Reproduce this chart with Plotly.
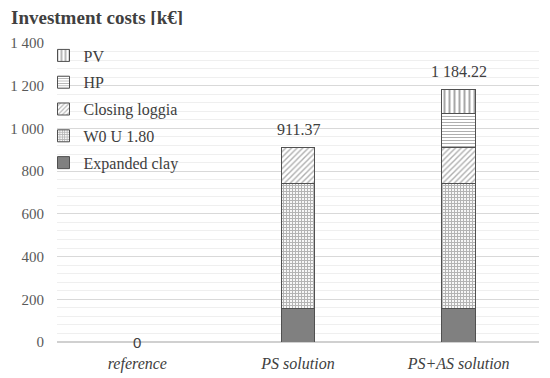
import plotly.graph_objects as go

categories = ["reference", "PS solution", "PS+AS solution"]
expanded_clay = [0, 157.47, 157.47]
w0_u180 = [0, 585.90, 585.90]
closing_loggia = [0, 168.00, 168.00]
hp = [0, 0, 160.35]
pv = [0, 0, 112.50]
totals = [0, 911.37, 1184.22]
total_labels = ["0", "911.37", "1 184.22"]
tick_vals = [0, 200, 400, 600, 800, 1000, 1200, 1400]
tick_text = ["0", "200", "400", "600", "800", "1 000", "1 200", "1 400"]

serif = "Liberation Serif"
line = dict(color="#505050", width=1)

series = [
    ("Expanded clay", expanded_clay, dict(shape="", fgcolor="#808080"), "#808080", 5),
    ("W0 U 1.80", w0_u180, dict(shape="+", fgcolor="#6a6a6a", bgcolor="white", size=3, solidity=0.65), "white", 4),
    ("Closing loggia", closing_loggia, dict(shape="/", fgcolor="#606060", bgcolor="white", size=4, solidity=0.35), "white", 3),
    ("HP", hp, dict(shape="-", fgcolor="#606060", bgcolor="white", size=3, solidity=0.35), "white", 2),
    ("PV", pv, dict(shape="|", fgcolor="#505050", bgcolor="white", size=5, solidity=0.4), "white", 1),
]

fig = go.Figure()
for name, vals, pat, col, rank in series:
    fig.add_trace(go.Bar(
        x=categories, y=vals, name=name, width=0.21, legendgroup=name, legendrank=rank,
        marker=dict(color=col, line=line, pattern=pat),
    ))

for c, t, lab in zip(categories, totals, total_labels):
    if t == 0:
        fig.add_annotation(x=c, y=t, text=lab, showarrow=False, yanchor="middle",
                           font=dict(family="Liberation Sans", size=15, color="#404040"))
    else:
        fig.add_annotation(x=c, y=t, text=lab, showarrow=False, yanchor="bottom", yshift=7,
                           font=dict(family=serif, size=16, color="#404040"))

fig.add_annotation(xref="paper", yref="paper", x=-0.0975, y=1.088, xanchor="left", yanchor="middle",
                   text="<b>Investment costs [k€]</b>", showarrow=False, height=16, borderpad=0,
                   font=dict(family=serif, size=19, color="#404040"))

# page body adds an 8px margin, so the figure is 8px smaller than the window
fig.update_layout(
    width=542, height=370,
    barmode="stack",
    paper_bgcolor="white", plot_bgcolor="white",
    margin=dict(l=49, r=11, t=35, b=36),
    font=dict(family=serif, size=16, color="#404040"),
    legend=dict(x=-0.028, y=1.015, xanchor="left", yanchor="top", traceorder="grouped",
                bgcolor="rgba(0,0,0,0)", font=dict(family=serif, size=16, color="#404040"),
                itemwidth=30, tracegroupgap=3),
    showlegend=True,
)
fig.update_xaxes(showgrid=False, showline=False, zeroline=False, ticklabelstandoff=10,
                 automargin=False,
                 tickfont=dict(family=serif, size=16, color="#404040", style="italic"))
fig.update_yaxes(range=[0, 1400], tickvals=tick_vals, ticktext=tick_text,
                 showgrid=True, gridcolor="#d9d9d9", automargin=False,
                 zeroline=True, zerolinecolor="#d0d0d0", showline=False,
                 tickfont=dict(family=serif, size=15, color="#595959"),
                 ticklabelstandoff=12,
                 minor=dict(dtick=40, showgrid=True, gridcolor="#efefef"))

fig.write_html("out.html")
